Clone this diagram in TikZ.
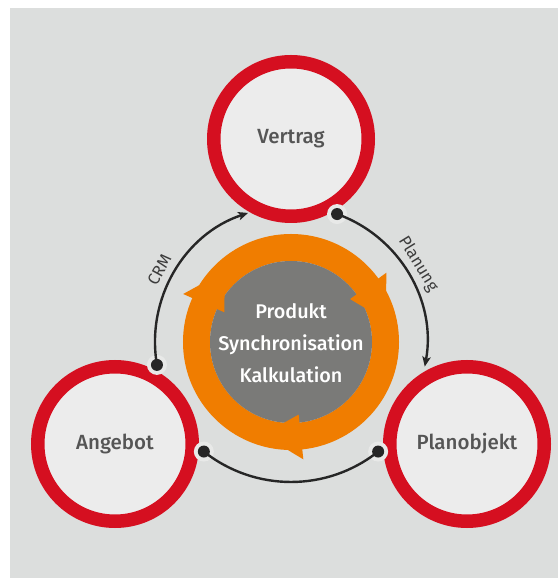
\documentclass[tikz,border=0pt]{standalone}
\usepackage{fontspec}
\setmainfont{Fira Sans}
\newfontfamily\medfont{Fira Sans Medium}
\usetikzlibrary{arrows.meta,calc}
\definecolor{bg}{HTML}{DCDEDD}
\definecolor{ringred}{HTML}{D50F20}
\definecolor{nodefill}{HTML}{ECECEC}
\definecolor{orng}{HTML}{F07D00}
\definecolor{coregray}{HTML}{7A7A78}
\definecolor{labgray}{HTML}{555555}
\definecolor{linecol}{HTML}{262626}
\definecolor{halo}{HTML}{E8E9E8}
\begin{document}
\begin{tikzpicture}[x=1pt,y=1pt,
  phase/.style={circle, draw=ringred, line width=13.5pt, fill=nodefill,
    minimum size=154.5pt, inner sep=0pt,
    font=\medfont\fontsize{20.5}{25}\selectfont, text=labgray},
  link/.style={draw=linecol, line width=2.4pt},
  tipm/.style={-{Stealth[length=10pt,width=8.5pt,inset=2.5pt]}},
  dotm/.style={circle, fill=linecol, minimum size=12pt, inner sep=0pt},
  halom/.style={circle, fill=halo, minimum size=20pt, inner sep=0pt},
  linklabel/.style={font=\fontsize{16.5}{19}\selectfont, text=linecol!90, inner sep=0pt},
  coretext/.style={align=center, text=white,
    font=\medfont\fontsize{19.8}{31.7}\selectfont}]
\useasboundingbox (0,0) rectangle (558,578);
\fill[bg] (10,0) rectangle (558,570);
\coordinate (C) at (291,236);
% phases
\node[phase] (V) at (291,439) {Vertrag};
\node[phase] (A) at (115,134) {Angebot};
\node[phase] (P) at (467,134) {Planobjekt};
% core cycle
\draw[orng, line width=27pt] (C) circle[radius=94.5];
\fill[coregray] (C) circle[radius=81];
\foreach \t in {36,156,276}{
  \fill[orng] ($(C)+(\t:73)$) -- ($(C)+(\t:118)$) -- ($(C)+(\t-23:97)$) -- cycle;
}
\node[coretext] (core) at ($(C)+(0,-1)$) {Produkt\\Synchronisation\\Kalkulation};
% connector end points
\coordinate (crmS) at ($(C)+(189.7:136)$);
\coordinate (crmE) at ($(C)+(108.4:136)$);
\coordinate (plaS) at ($(C)+(70.2:136)$);
\coordinate (plaE) at ($(C)+(-10.4:136)$);
\coordinate (botS) at ($(C)+(308.5:140)$);
\coordinate (botE) at ($(C)+(231.5:140)$);
% halos
\node[halom] (h1) at (crmS) {};
\node[halom] (h2) at (plaS) {};
\node[halom] (h3) at (botS) {};
\node[halom] (h4) at (botE) {};
% connectors
\draw[link, tipm] (crmS) arc[start angle=189.7, end angle=108.4, radius=136];
\draw[link, tipm] (plaS) arc[start angle=70.2, end angle=-10.4, radius=136];
\draw[link] (botS) arc[start angle=308.5, end angle=231.5, radius=140];
% dots
\node[dotm] (d1) at (crmS) {};
\node[dotm] (d2) at (plaS) {};
\node[dotm] (d3) at (botS) {};
\node[dotm] (d4) at (botE) {};
% labels
\node[linklabel, rotate=61.3] (crm) at ($(C)+(151.3:150)$) {CRM};
\node[linklabel, rotate=-58.5] (pla) at ($(C)+(31.5:149)$) {Planung};
\end{tikzpicture}
\end{document}
